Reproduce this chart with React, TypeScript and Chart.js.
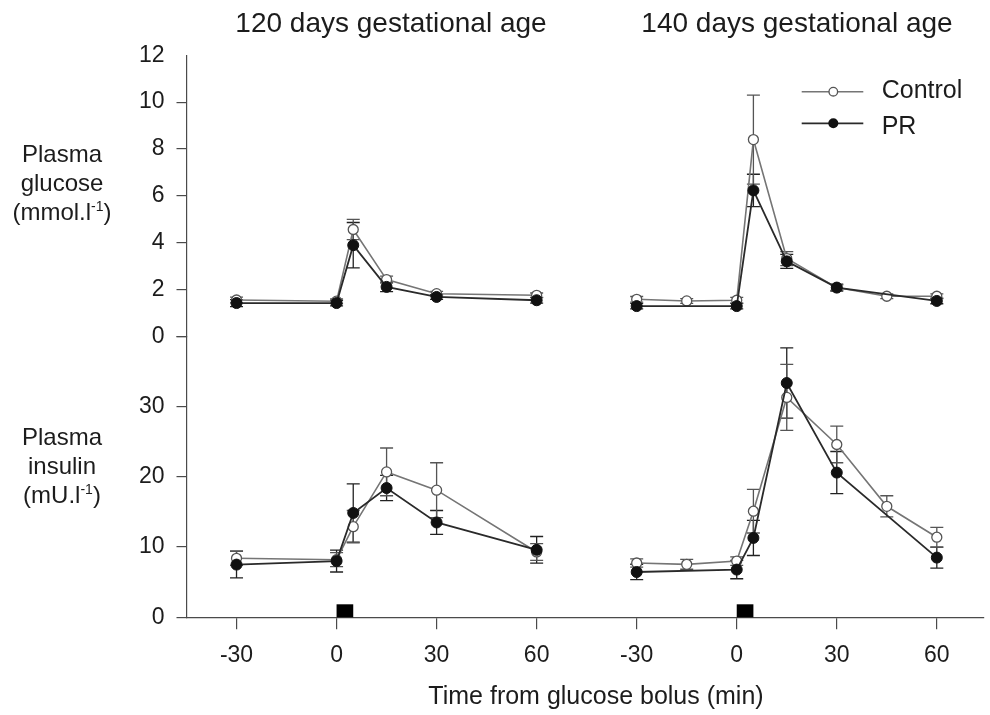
import React, { useEffect, useRef } from 'react';
import { Chart, registerables } from 'chart.js';

Chart.register(...registerables);

// ---------- data ----------
const xTickValues = [-30, 0, 30, 60];
const glucoseTicks = [0, 2, 4, 6, 8, 10, 12];
const insulinTicks = [0, 10, 20, 30];
const bolusWindow = [0, 5];

const t120 = [-30, 0, 5, 15, 30, 60];
const t140Control = [-30, -15, 0, 5, 15, 30, 45, 60];
const t140PR = [-30, 0, 5, 15, 30, 60];

const glu120Control = [1.55, 1.5, 4.56, 2.42, 1.82, 1.75];
const glu120ControlSem = [0.12, 0.1, 0.43, 0.15, 0.1, 0.1];
const glu120PR = [1.42, 1.42, 3.89, 2.11, 1.68, 1.54];
const glu120PRSem = [0.15, 0.12, 0.97, 0.2, 0.1, 0.12];
const glu140Control = [1.58, 1.51, 1.54, 8.4, 3.32, 2.08, 1.71, 1.71];
const glu140ControlSem = [0.12, 0.1, 0.12, 1.9, 0.3, 0.12, 0.1, 0.1];
const glu140PR = [1.29, 1.29, 6.23, 3.2, 2.08, 1.51];
const glu140PRSem = [0.12, 0.12, 0.69, 0.3, 0.15, 0.12];

const ins120Control = [8.4, 8.2, 12.9, 20.7, 18.1, 9.3];
const ins120ControlSem = [1.0, 1.0, 2.3, 3.4, 3.9, 1.2];
const ins120PR = [7.5, 8.0, 14.85, 18.4, 13.5, 9.6];
const ins120PRSem = [1.9, 1.55, 4.15, 1.8, 1.7, 1.9];
const ins140Control = [7.73, 7.54, 8.0, 15.1, 31.3, 24.6, 15.8, 11.4];
const ins140ControlSem = [0.6, 0.7, 0.6, 3.1, 4.7, 2.6, 1.5, 1.4];
const ins140PR = [6.45, 6.79, 11.3, 33.35, 20.6, 8.5];
const ins140PRSem = [1.1, 1.3, 2.5, 5.0, 3.0, 1.5];

// shift applied to 140-day panel so both panels share one x scale
const PANEL_SHIFT = 120;

const FONT = '"Liberation Sans", Arial, Helvetica, sans-serif';
const TEXT = '#1c1c1c';
const AXIS = '#4a4a4a';

const pts = (ts: number[], vs: number[], shift: number) =>
  ts.map((t, i) => ({ x: t + shift, y: vs[i] }));

const prStyle = {
  borderColor: '#2a2a2a',
  borderWidth: 1.8,
  pointRadius: 5.5,
  pointBackgroundColor: '#111',
  pointBorderColor: '#111',
  pointBorderWidth: 1,
};
const controlStyle = {
  borderColor: '#757575',
  borderWidth: 1.6,
  pointRadius: 5,
  pointBackgroundColor: '#fff',
  pointBorderColor: '#555',
  pointBorderWidth: 1.3,
};

const series = [
  { kind: 'pr', axis: 'yg', data: pts(t120, glu120PR, 0), sem: glu120PRSem },
  { kind: 'pr', axis: 'yg', data: pts(t140PR, glu140PR, PANEL_SHIFT), sem: glu140PRSem },
  { kind: 'pr', axis: 'yi', data: pts(t120, ins120PR, 0), sem: ins120PRSem },
  { kind: 'pr', axis: 'yi', data: pts(t140PR, ins140PR, PANEL_SHIFT), sem: ins140PRSem },
  { kind: 'control', axis: 'yg', data: pts(t120, glu120Control, 0), sem: glu120ControlSem },
  { kind: 'control', axis: 'yg', data: pts(t140Control, glu140Control, PANEL_SHIFT), sem: glu140ControlSem },
  { kind: 'control', axis: 'yi', data: pts(t120, ins120Control, 0), sem: ins120ControlSem },
  { kind: 'control', axis: 'yi', data: pts(t140Control, ins140Control, PANEL_SHIFT), sem: ins140ControlSem },
];

const errorBarPlugin = {
  id: 'errorBars',
  beforeDatasetsDraw(chart: any) {
    const ctx = chart.ctx;
    const xs = chart.scales.x;
    series.forEach((s) => {
      const ys = chart.scales[s.axis];
      ctx.save();
      ctx.strokeStyle = s.kind === 'pr' ? '#222' : '#555';
      ctx.lineWidth = 1.3;
      s.data.forEach((p, j) => {
        const px = xs.getPixelForValue(p.x);
        const top = ys.getPixelForValue(p.y + s.sem[j]);
        const bot = ys.getPixelForValue(p.y - s.sem[j]);
        ctx.beginPath();
        ctx.moveTo(px, top);
        ctx.lineTo(px, bot);
        ctx.moveTo(px - 6.5, top);
        ctx.lineTo(px + 6.5, top);
        ctx.moveTo(px - 6.5, bot);
        ctx.lineTo(px + 6.5, bot);
        ctx.stroke();
      });
      ctx.restore();
    });
  },
};

const bolusPlugin = {
  id: 'bolus',
  afterDatasetsDraw(chart: any) {
    const ctx = chart.ctx;
    const xs = chart.scales.x;
    const yi = chart.scales.yi;
    const yb = yi.getPixelForValue(0);
    ctx.save();
    ctx.fillStyle = '#000';
    [0, PANEL_SHIFT].forEach((shift) => {
      const x0 = xs.getPixelForValue(bolusWindow[0] + shift);
      const x1 = xs.getPixelForValue(bolusWindow[1] + shift);
      ctx.fillRect(x0, yb - 13, x1 - x0, 13);
    });
    ctx.restore();
  },
};

const tickFont = { family: FONT, size: 23 };

export default function App() {
  const ref = useRef<HTMLCanvasElement>(null);

  useEffect(() => {
    if (!ref.current) return;
    const chart = new Chart(ref.current, {
      type: 'line',
      data: {
        datasets: series.map((s) => ({
          label: s.kind,
          yAxisID: s.axis,
          data: s.data,
          ...(s.kind === 'pr' ? prStyle : controlStyle),
        })),
      },
      options: {
        animation: false,
        responsive: false,
        devicePixelRatio: 1,
        layout: { padding: { top: 55.3, left: 0, right: 0, bottom: 0 } },
        plugins: { legend: { display: false }, tooltip: { enabled: false }, title: { display: false } },
        scales: {
          x: {
            type: 'linear',
            min: -45,
            max: 194,
            afterBuildTicks: (s: any) => {
              s.ticks = [
                ...xTickValues.map((v) => ({ value: v })),
                ...xTickValues.map((v) => ({ value: v + PANEL_SHIFT })),
              ];
            },
            afterFit: (s: any) => {
              s.height = 97.7;
            },
            ticks: {
              autoSkip: false,
              maxRotation: 0,
              padding: 13,
              color: TEXT,
              font: tickFont,
              callback: (v: any) => String(Number(v) > 75 ? Number(v) - PANEL_SHIFT : v),
            },
            grid: { drawOnChartArea: false, tickLength: 12, color: AXIS, lineWidth: 1.2 },
            border: { color: AXIS, width: 1.2 },
          },
          yi: {
            type: 'linear',
            position: 'left',
            stack: 'rows',
            stackWeight: 1,
            min: 0,
            max: 40,
            afterBuildTicks: (s: any) => {
              s.ticks = [...insulinTicks, 40].map((v) => ({ value: v }));
            },
            afterFit: (s: any) => {
              s.width = 186.5;
            },
            ticks: {
              autoSkip: false,
              padding: 12,
              color: TEXT,
              font: tickFont,
              callback: (v: any) => (Number(v) === 40 ? '' : String(v)),
            },
            grid: { drawOnChartArea: false, tickLength: 10, color: AXIS, lineWidth: 1.2 },
            border: { color: AXIS, width: 1.2 },
          },
          yg: {
            type: 'linear',
            position: 'left',
            stack: 'rows',
            stackWeight: 1,
            min: 0,
            max: 12,
            afterBuildTicks: (s: any) => {
              s.ticks = glucoseTicks.map((v) => ({ value: v }));
            },
            afterFit: (s: any) => {
              s.width = 186.5;
            },
            ticks: {
              autoSkip: false,
              padding: 12,
              color: TEXT,
              font: tickFont,
              callback: (v: any) => String(v),
            },
            grid: {
              drawOnChartArea: false,
              tickLength: 10,
              lineWidth: 1.2,
              color: (c: any) => (c.tick && c.tick.value === 12 ? 'rgba(0,0,0,0)' : AXIS),
            },
            border: { color: AXIS, width: 1.2 },
          },
        },
      } as any,
      plugins: [errorBarPlugin, bolusPlugin],
    });
    return () => chart.destroy();
  }, []);

  const abs = (extra: React.CSSProperties): React.CSSProperties => ({
    position: 'absolute',
    margin: 0,
    whiteSpace: 'nowrap',
    ...extra,
  });
  const rowLabel: React.CSSProperties = {
    left: 0,
    width: 124,
    textAlign: 'center',
    fontSize: 24,
    lineHeight: '29px',
    whiteSpace: 'normal',
  };
  const sup: React.CSSProperties = { fontSize: 14, position: 'relative', top: -9, lineHeight: 0 };

  return (
    <div
      style={{
        position: 'absolute',
        left: 0,
        top: 0,
        width: 990,
        height: 715,
        background: '#fff',
        fontFamily: FONT,
        color: TEXT,
        overflow: 'hidden',
      }}
    >
      <canvas ref={ref} width={990} height={715} style={{ position: 'absolute', left: 0, top: 0, width: 990, height: 715 }} />

      <div style={abs({ left: 191, top: 9.3, width: 400, textAlign: 'center', fontSize: 28, lineHeight: 1 })}>
        120 days gestational age
      </div>
      <div style={abs({ left: 597, top: 9.3, width: 400, textAlign: 'center', fontSize: 28, lineHeight: 1 })}>
        140 days gestational age
      </div>

      <div style={abs({ ...rowLabel, top: 139 })}>
        Plasma
        <br />
        glucose
        <br />
        (mmol.l<span style={sup}>-1</span>)
      </div>
      <div style={abs({ ...rowLabel, top: 422 })}>
        Plasma
        <br />
        insulin
        <br />
        (mU.l<span style={sup}>-1</span>)
      </div>

      <div style={abs({ left: 396, top: 683, width: 400, textAlign: 'center', fontSize: 25, lineHeight: 1 })}>
        Time from glucose bolus (min)
      </div>

      <svg width={990} height={715} style={{ position: 'absolute', left: 0, top: 0, pointerEvents: 'none' }}>
        <line x1={801.7} y1={91.7} x2={863.3} y2={91.7} stroke="#757575" strokeWidth={1.6} />
        <circle cx={833.3} cy={91.7} r={4.3} fill="#fff" stroke="#555" strokeWidth={1.3} />
        <line x1={801.7} y1={123.3} x2={863.3} y2={123.3} stroke="#2a2a2a" strokeWidth={1.8} />
        <circle cx={833.3} cy={123.3} r={5} fill="#111" />
      </svg>
      <div style={abs({ left: 881.7, top: 77.3, fontSize: 25, lineHeight: 1 })}>Control</div>
      <div style={abs({ left: 881.7, top: 112.8, fontSize: 25, lineHeight: 1 })}>PR</div>
    </div>
  );
}
